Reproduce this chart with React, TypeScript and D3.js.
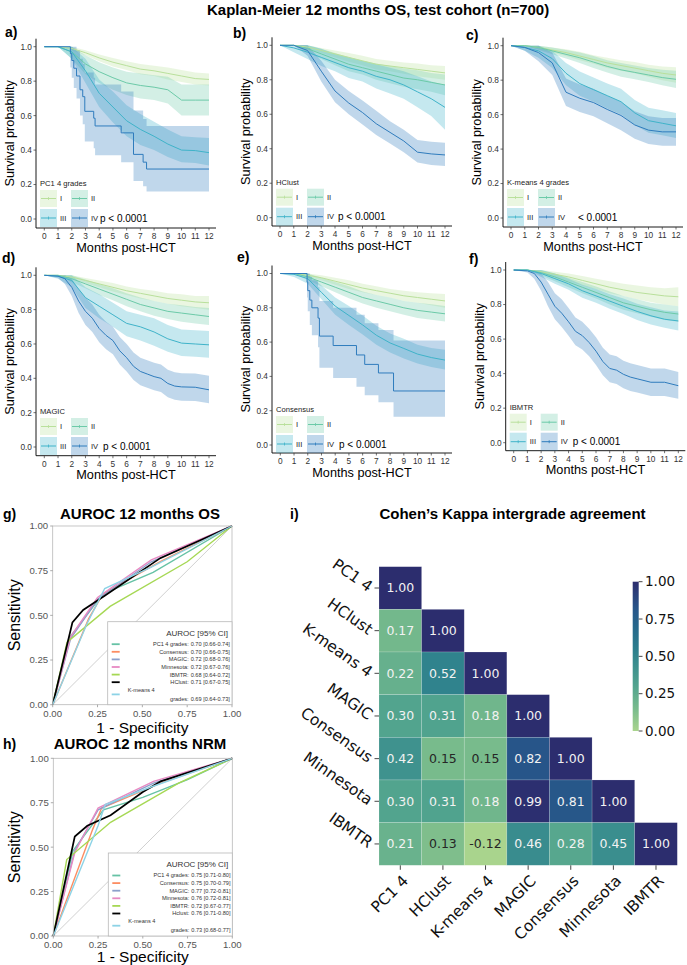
import React from 'react';
import * as d3 from 'd3';

const W = 687;
const H = 965;
const SANS = "'Liberation Sans', Arial, Helvetica, sans-serif";
const MPL = "'DejaVu Sans', sans-serif";

// ---------- Kaplan-Meier data (survival, lower CI, upper CI) ----------
const MONTHS = [0, 1, 2, 3, 4, 5, 6, 7, 8, 9, 10, 11, 12];
const HALF_MONTHS = [0, 1, 1.5, 2, 2.5, 3, 3.5, 4, 4.5, 5, 5.5, 6, 6.5, 7, 7.5, 8, 8.5, 9, 9.5, 10, 11, 12];
const GRADES = ['I', 'II', 'III', 'IV'];
const GRADE_COLORS = ['#b9e09b', '#6ccaa8', '#3fb3c9', '#2f7cbd'];

// a) PC1 4 grades
const PC1_IV_T = [0, 1.9, 2.0, 2.15, 2.35, 2.6, 2.8, 2.95, 3.6, 3.7, 5.6, 6.5, 7.2, 7.45, 12];
const PC1_T = [MONTHS, MONTHS, MONTHS, PC1_IV_T];
const PC1_S = [
  [1, 1, 0.99, 0.965, 0.935, 0.91, 0.89, 0.87, 0.86, 0.845, 0.83, 0.815, 0.81],
  [1, 1, 0.97, 0.9, 0.855, 0.82, 0.79, 0.775, 0.765, 0.75, 0.69, 0.69, 0.69],
  [1, 1, 0.97, 0.86, 0.73, 0.65, 0.57, 0.52, 0.48, 0.435, 0.4, 0.397, 0.385],
  [1, 0.96, 0.92, 0.875, 0.83, 0.75, 0.71, 0.625, 0.585, 0.54, 0.5, 0.375, 0.33, 0.29, 0.29],
];
const PC1_LO = [
  [1, 1, 0.98, 0.95, 0.915, 0.885, 0.865, 0.84, 0.83, 0.81, 0.795, 0.78, 0.775],
  [1, 1, 0.93, 0.84, 0.79, 0.75, 0.72, 0.7, 0.69, 0.67, 0.6, 0.6, 0.6],
  [1, 1, 0.93, 0.79, 0.65, 0.56, 0.48, 0.43, 0.4, 0.36, 0.33, 0.325, 0.31],
  [1, 0.88, 0.82, 0.76, 0.7, 0.6, 0.55, 0.45, 0.41, 0.37, 0.33, 0.22, 0.19, 0.16, 0.16],
];
const PC1_HI = [
  [1, 1, 1, 0.98, 0.955, 0.935, 0.915, 0.9, 0.89, 0.88, 0.865, 0.85, 0.845],
  [1, 1, 1, 0.95, 0.91, 0.88, 0.855, 0.845, 0.835, 0.825, 0.78, 0.78, 0.78],
  [1, 1, 1, 0.93, 0.81, 0.74, 0.66, 0.61, 0.565, 0.52, 0.48, 0.475, 0.47],
  [1, 1, 1, 1, 0.98, 0.93, 0.9, 0.85, 0.82, 0.78, 0.74, 0.63, 0.58, 0.54, 0.54],
];

// b) HClust
const HCL_T = [MONTHS, MONTHS, MONTHS, MONTHS];
const HCL_S = [
  [1, 1, 0.99, 0.97, 0.95, 0.93, 0.91, 0.89, 0.88, 0.87, 0.86, 0.85, 0.84],
  [1, 1, 0.98, 0.95, 0.92, 0.89, 0.87, 0.85, 0.83, 0.81, 0.8, 0.785, 0.77],
  [1, 0.985, 0.96, 0.93, 0.9, 0.87, 0.85, 0.82, 0.8, 0.77, 0.73, 0.69, 0.64],
  [1, 1, 0.97, 0.85, 0.735, 0.665, 0.61, 0.545, 0.495, 0.445, 0.38, 0.37, 0.364],
];
const HCL_LO = [
  [1, 1, 0.98, 0.955, 0.93, 0.905, 0.885, 0.86, 0.85, 0.835, 0.82, 0.81, 0.8],
  [1, 1, 0.96, 0.92, 0.885, 0.85, 0.83, 0.8, 0.78, 0.76, 0.745, 0.73, 0.71],
  [1, 0.96, 0.92, 0.88, 0.85, 0.81, 0.79, 0.75, 0.72, 0.69, 0.64, 0.59, 0.51],
  [1, 1, 0.94, 0.79, 0.67, 0.6, 0.54, 0.48, 0.43, 0.38, 0.32, 0.305, 0.3],
];
const HCL_HI = [
  [1, 1, 1, 0.985, 0.97, 0.955, 0.94, 0.92, 0.91, 0.9, 0.895, 0.885, 0.88],
  [1, 1, 1, 0.98, 0.955, 0.93, 0.91, 0.895, 0.88, 0.865, 0.855, 0.84, 0.83],
  [1, 1, 1, 0.98, 0.95, 0.93, 0.91, 0.89, 0.87, 0.85, 0.82, 0.79, 0.77],
  [1, 1, 1, 0.91, 0.8, 0.735, 0.68, 0.62, 0.56, 0.51, 0.45, 0.44, 0.435],
];

// c) K-means 4 grades
const KM4_T = [MONTHS, MONTHS, MONTHS, MONTHS];
const KM4_S = [
  [1, 1, 0.99, 0.975, 0.96, 0.94, 0.92, 0.9, 0.885, 0.87, 0.855, 0.84, 0.83],
  [1, 1, 0.99, 0.97, 0.95, 0.93, 0.905, 0.88, 0.86, 0.845, 0.83, 0.815, 0.805],
  [1, 0.99, 0.97, 0.925, 0.84, 0.78, 0.745, 0.71, 0.675, 0.61, 0.565, 0.55, 0.535],
  [1, 0.99, 0.96, 0.9, 0.73, 0.695, 0.67, 0.63, 0.595, 0.54, 0.51, 0.5, 0.5],
];
const KM4_LO = [
  [1, 1, 0.98, 0.96, 0.94, 0.915, 0.895, 0.87, 0.855, 0.84, 0.82, 0.8, 0.785],
  [1, 1, 0.975, 0.95, 0.925, 0.9, 0.87, 0.845, 0.82, 0.805, 0.79, 0.77, 0.755],
  [1, 0.97, 0.93, 0.87, 0.77, 0.71, 0.675, 0.635, 0.6, 0.54, 0.495, 0.48, 0.465],
  [1, 0.97, 0.91, 0.83, 0.65, 0.615, 0.59, 0.55, 0.51, 0.46, 0.43, 0.42, 0.42],
];
const KM4_HI = [
  [1, 1, 1, 0.99, 0.98, 0.965, 0.945, 0.93, 0.915, 0.905, 0.89, 0.88, 0.875],
  [1, 1, 1, 0.99, 0.975, 0.96, 0.94, 0.915, 0.9, 0.885, 0.87, 0.86, 0.855],
  [1, 1, 1, 0.97, 0.9, 0.85, 0.815, 0.78, 0.75, 0.685, 0.64, 0.625, 0.61],
  [1, 1, 1, 0.96, 0.81, 0.775, 0.75, 0.71, 0.675, 0.62, 0.59, 0.58, 0.58],
];

// d) MAGIC
const MAG_T = [MONTHS, MONTHS, MONTHS, HALF_MONTHS];
const MAG_S = [
  [1, 1, 0.99, 0.97, 0.95, 0.93, 0.91, 0.895, 0.88, 0.865, 0.855, 0.845, 0.84],
  [1, 1, 0.98, 0.95, 0.92, 0.89, 0.86, 0.83, 0.81, 0.79, 0.78, 0.77, 0.76],
  [1, 0.995, 0.97, 0.87, 0.82, 0.77, 0.72, 0.7, 0.67, 0.63, 0.605, 0.6, 0.595],
  [1, 0.995, 0.98, 0.93, 0.85, 0.79, 0.75, 0.69, 0.65, 0.62, 0.56, 0.52, 0.47, 0.44, 0.425, 0.41, 0.4, 0.37, 0.355, 0.35, 0.348, 0.333],
];
const MAG_LO = [
  [1, 1, 0.98, 0.955, 0.93, 0.905, 0.885, 0.865, 0.85, 0.835, 0.82, 0.81, 0.8],
  [1, 1, 0.96, 0.925, 0.885, 0.855, 0.82, 0.79, 0.765, 0.745, 0.73, 0.72, 0.71],
  [1, 0.98, 0.93, 0.81, 0.75, 0.7, 0.645, 0.62, 0.59, 0.555, 0.53, 0.525, 0.52],
  [1, 0.985, 0.95, 0.88, 0.78, 0.71, 0.67, 0.61, 0.57, 0.54, 0.48, 0.44, 0.39, 0.36, 0.345, 0.33, 0.32, 0.29, 0.275, 0.27, 0.268, 0.255],
];
const MAG_HI = [
  [1, 1, 1, 0.985, 0.97, 0.955, 0.935, 0.92, 0.91, 0.895, 0.89, 0.88, 0.88],
  [1, 1, 1, 0.975, 0.95, 0.925, 0.895, 0.87, 0.85, 0.835, 0.825, 0.815, 0.81],
  [1, 1, 1, 0.93, 0.89, 0.84, 0.79, 0.77, 0.75, 0.71, 0.685, 0.68, 0.675],
  [1, 1, 1, 0.98, 0.92, 0.87, 0.83, 0.77, 0.73, 0.7, 0.64, 0.6, 0.55, 0.52, 0.505, 0.49, 0.48, 0.45, 0.435, 0.43, 0.428, 0.415],
];

// e) Consensus
const CON_IV_T = [0, 1.95, 2.0, 2.15, 2.3, 2.75, 2.85, 3.85, 5.55, 6.15, 7.15, 8.25, 12];
const CON_T = [MONTHS, MONTHS, MONTHS, CON_IV_T];
const CON_S = [
  [1, 1, 0.99, 0.975, 0.955, 0.935, 0.915, 0.9, 0.885, 0.87, 0.86, 0.85, 0.84],
  [1, 1, 0.98, 0.95, 0.92, 0.89, 0.86, 0.84, 0.82, 0.8, 0.785, 0.775, 0.765],
  [1, 0.995, 0.97, 0.89, 0.81, 0.755, 0.7, 0.64, 0.595, 0.563, 0.53, 0.51, 0.495],
  [1, 0.95, 0.9, 0.845, 0.8, 0.74, 0.635, 0.58, 0.525, 0.47, 0.42, 0.315, 0.315],
];
const CON_LO = [
  [1, 1, 0.98, 0.96, 0.935, 0.91, 0.89, 0.875, 0.86, 0.84, 0.83, 0.815, 0.8],
  [1, 1, 0.96, 0.925, 0.89, 0.855, 0.825, 0.8, 0.78, 0.76, 0.74, 0.73, 0.72],
  [1, 0.98, 0.94, 0.85, 0.76, 0.7, 0.645, 0.585, 0.54, 0.505, 0.475, 0.455, 0.44],
  [1, 0.86, 0.78, 0.7, 0.64, 0.57, 0.45, 0.39, 0.34, 0.29, 0.25, 0.165, 0.165],
];
const CON_HI = [
  [1, 1, 1, 0.99, 0.975, 0.96, 0.94, 0.925, 0.91, 0.9, 0.89, 0.885, 0.88],
  [1, 1, 1, 0.975, 0.95, 0.925, 0.895, 0.875, 0.86, 0.84, 0.83, 0.82, 0.81],
  [1, 1, 1, 0.93, 0.86, 0.81, 0.755, 0.695, 0.65, 0.62, 0.585, 0.565, 0.555],
  [1, 1, 1, 0.98, 0.96, 0.92, 0.84, 0.8, 0.76, 0.71, 0.67, 0.61, 0.61],
];

// f) IBMTR
const IBM_T = [MONTHS, MONTHS, MONTHS, HALF_MONTHS];
const IBM_S = [
  [1, 1, 0.99, 0.975, 0.96, 0.94, 0.92, 0.9, 0.885, 0.87, 0.86, 0.85, 0.845],
  [1, 1, 0.985, 0.96, 0.93, 0.9, 0.87, 0.84, 0.81, 0.79, 0.77, 0.755, 0.745],
  [1, 1, 0.98, 0.95, 0.92, 0.88, 0.85, 0.82, 0.79, 0.76, 0.735, 0.715, 0.705],
  [1, 0.995, 0.98, 0.93, 0.86, 0.79, 0.75, 0.7, 0.645, 0.62, 0.58, 0.53, 0.47, 0.43, 0.42, 0.396, 0.38, 0.37, 0.36, 0.35, 0.35, 0.33],
];
const IBM_LO = [
  [1, 1, 0.98, 0.955, 0.935, 0.91, 0.89, 0.865, 0.85, 0.83, 0.815, 0.8, 0.79],
  [1, 1, 0.97, 0.935, 0.9, 0.865, 0.835, 0.8, 0.77, 0.75, 0.73, 0.71, 0.7],
  [1, 1, 0.96, 0.92, 0.885, 0.84, 0.81, 0.775, 0.745, 0.71, 0.685, 0.665, 0.65],
  [1, 0.985, 0.95, 0.88, 0.79, 0.715, 0.67, 0.62, 0.565, 0.54, 0.5, 0.45, 0.39, 0.35, 0.34, 0.315, 0.3, 0.29, 0.28, 0.27, 0.27, 0.255],
];
const IBM_HI = [
  [1, 1, 1, 0.99, 0.98, 0.965, 0.95, 0.935, 0.92, 0.91, 0.9, 0.895, 0.9],
  [1, 1, 1, 0.98, 0.955, 0.93, 0.905, 0.875, 0.85, 0.83, 0.81, 0.8, 0.79],
  [1, 1, 1, 0.98, 0.95, 0.915, 0.89, 0.86, 0.835, 0.805, 0.785, 0.765, 0.76],
  [1, 1, 1, 0.98, 0.93, 0.865, 0.83, 0.78, 0.725, 0.7, 0.66, 0.61, 0.55, 0.51, 0.5, 0.475, 0.46, 0.45, 0.44, 0.43, 0.43, 0.41],
];

// ---------- ROC data ----------
const ROC_COLORS = ['#66c2a5', '#fc8d62', '#8da0cb', '#e78ac3', '#a6d854', '#000000', '#8dd3e6'];
const ROC_OS_NAMES = ['PC1 4 grades:', 'Consensus:', 'MAGIC:', 'Minnesota:', 'IBMTR:', 'HClust:', 'grades:'];
const ROC_NRM_NAMES = ['PC1 4 grades:', 'Consensus:', 'MAGIC:', 'Minnesota:', 'IBMTR:', 'Hclust:', 'grades:'];
const ROC_OS_AUC = ['0.70 [0.66-0.74]', '0.70 [0.66-0.75]', '0.72 [0.68-0.76]', '0.72 [0.67-0.76]', '0.68 [0.64-0.72]', '0.71 [0.67-0.75]', '0.69 [0.64-0.73]'];
const ROC_NRM_AUC = ['0.75 [0.71-0.80]', '0.75 [0.70-0.79]', '0.77 [0.72-0.81]', '0.76 [0.72-0.81]', '0.72 [0.67-0.77]', '0.76 [0.71-0.80]', '0.73 [0.68-0.77]'];
const ROC_OS_FPR = [
  [0, 0.09, 0.28, 0.56, 1],
  [0, 0.2, 0.28, 0.6, 1],
  [0, 0.1, 0.25, 0.55, 1],
  [0, 0.1, 0.25, 0.55, 1],
  [0, 0.08, 0.32, 0.75, 1],
  [0, 0.11, 0.17, 0.29, 0.6, 1],
  [0, 0.19, 0.29, 0.55, 1],
];
const ROC_OS_TPR = [
  [0, 0.37, 0.62, 0.74, 1],
  [0, 0.48, 0.62, 0.8, 1],
  [0, 0.37, 0.59, 0.8, 1],
  [0, 0.38, 0.6, 0.81, 1],
  [0, 0.35, 0.55, 0.8, 1],
  [0, 0.46, 0.53, 0.61, 0.82, 1],
  [0, 0.45, 0.65, 0.77, 1],
];
const ROC_NRM_FPR = [
  [0, 0.11, 0.28, 0.5, 0.75, 1],
  [0, 0.22, 0.27, 0.6, 1],
  [0, 0.12, 0.25, 0.56, 1],
  [0, 0.12, 0.25, 0.56, 1],
  [0, 0.075, 0.32, 0.7, 1],
  [0, 0.12, 0.19, 0.32, 0.5, 0.6, 1],
  [0, 0.25, 0.29, 0.55, 1],
];
const ROC_NRM_TPR = [
  [0, 0.48, 0.71, 0.78, 0.88, 1],
  [0, 0.6, 0.72, 0.86, 1],
  [0, 0.48, 0.71, 0.86, 1],
  [0, 0.47, 0.72, 0.87, 1],
  [0, 0.43, 0.64, 0.86, 1],
  [0, 0.56, 0.62, 0.68, 0.81, 0.87, 1],
  [0, 0.62, 0.74, 0.84, 1],
];
const ROC_TICKS = [0, 0.25, 0.5, 0.75, 1];

// ---------- Cohen's kappa (lower triangle) ----------
const KAPPA_LABELS = ['PC1 4', 'HClust', 'K-means 4', 'MAGIC', 'Consensus', 'Minnesota', 'IBMTR'];
const KAPPA_ROWS = [
  [1.0],
  [0.17, 1.0],
  [0.22, 0.52, 1.0],
  [0.3, 0.31, 0.18, 1.0],
  [0.42, 0.15, 0.15, 0.82, 1.0],
  [0.3, 0.31, 0.18, 0.99, 0.81, 1.0],
  [0.21, 0.13, -0.12, 0.46, 0.28, 0.45, 1.0],
];
const CBAR_TICKS = [0, 0.25, 0.5, 0.75, 1];
const CREST_DOMAIN = [0, 0.15, 0.3, 0.45, 0.55, 0.7, 0.82, 1];
const CREST_COLORS = ['#a9d48d', '#78bb8c', '#52a48e', '#3a8e8e', '#2c7e8d', '#26688c', '#275589', '#2c2d6e'];

const KM_PANELS = [
  { lab: 'a)', labX: 5, labY: 36.5, legend: 'PC1 4 grades', p: 'p < 0.0001', pDx: 64, times: PC1_T, s: PC1_S, lo: PC1_LO, hi: PC1_HI, step: [false, false, false, true],
    g: { x0: 44.3, x12: 209, y1: 46.7, y0: 219, axX: 36, axY: 228 } },
  { lab: 'b)', labX: 233, labY: 38, legend: 'HClust', p: 'p < 0.0001', pDx: 66, times: HCL_T, s: HCL_S, lo: HCL_LO, hi: HCL_HI, step: [false, false, false, false],
    g: { x0: 280, x12: 445, y1: 45.3, y0: 217.7, axX: 272, axY: 226 } },
  { lab: 'c)', labX: 466, labY: 40, legend: 'K-means 4 grades', p: '< 0.0001', pDx: 75, times: KM4_T, s: KM4_S, lo: KM4_LO, hi: KM4_HI, step: [false, false, false, false],
    g: { x0: 511, x12: 676, y1: 45.7, y0: 218, axX: 503, axY: 227 } },
  { lab: 'd)', labX: 2, labY: 263, legend: 'MAGIC', p: 'p < 0.0001', pDx: 67, times: MAG_T, s: MAG_S, lo: MAG_LO, hi: MAG_HI, step: [false, false, false, false],
    g: { x0: 44.3, x12: 209, y1: 275.3, y0: 447, axX: 36, axY: 455.7 } },
  { lab: 'e)', labX: 237, labY: 262, legend: 'Consensus', p: 'p < 0.0001', pDx: 67, times: CON_T, s: CON_S, lo: CON_LO, hi: CON_HI, step: [false, false, false, true],
    g: { x0: 280.3, x12: 445, y1: 273.5, y0: 445, axX: 272, axY: 453 } },
  { lab: 'f)', labX: 469, labY: 264, legend: 'IBMTR', p: 'p < 0.0001', pDx: 67, times: IBM_T, s: IBM_S, lo: IBM_LO, hi: IBM_HI, step: [false, false, false, false],
    g: { x0: 513.7, x12: 678.3, y1: 270, y0: 442.7, axX: 505.7, axY: 450.7 } },
];

function KMPanel({ p }: { p: any }) {
  const g = p.g;
  const x = d3.scaleLinear().domain([0, 12]).range([g.x0, g.x12]);
  const y = d3.scaleLinear().domain([0, 1]).range([g.y0, g.y1]);
  const layers = p.s.map((s: number[], k: number) => {
    const t: number[] = p.times[k];
    const curve = p.step[k] ? d3.curveStepAfter : d3.curveLinear;
    const band = d3.area<number>()
      .x(d => x(d))
      .y0((_, i) => y(p.lo[k][i]))
      .y1((_, i) => y(p.hi[k][i]))
      .curve(curve)(t);
    const line = d3.line<number>().x(d => x(d)).y((_, i) => y(s[i])).curve(curve)(t);
    return { band, line, color: GRADE_COLORS[k] };
  });
  const lx = g.axX + 4;
  const keys = [[0, 0], [31, 0], [0, 1], [31, 1]];
  return (
    <g fontFamily={SANS}>
      {layers.map((l: any, k: number) => <path key={'b' + k} d={l.band} fill={l.color} fillOpacity={0.3} />)}
      {layers.map((l: any, k: number) => <path key={'l' + k} d={l.line} fill="none" stroke={l.color} strokeWidth={1} />)}
      <line x1={g.axX} x2={g.axX} y1={g.y1 - 8} y2={g.axY} stroke="#000" strokeWidth={0.9} />
      <line x1={g.axX} x2={g.x12 + 7} y1={g.axY} y2={g.axY} stroke="#000" strokeWidth={0.9} />
      {x.ticks(12).map(t => (
        <g key={'x' + t}>
          <line x1={x(t)} x2={x(t)} y1={g.axY} y2={g.axY + 2.5} stroke="#333" strokeWidth={0.7} />
          <text x={x(t)} y={g.axY + 8.5} dy="0.35em" textAnchor="middle" fontSize={8.3} fill="#333">{t}</text>
        </g>
      ))}
      {y.ticks(5).map(t => (
        <g key={'y' + t}>
          <line x1={g.axX - 2.5} x2={g.axX} y1={y(t)} y2={y(t)} stroke="#333" strokeWidth={0.7} />
          <text x={g.axX - 4} y={y(t)} dy="0.35em" textAnchor="end" fontSize={8.3} fill="#333">{d3.format('.1f')(t)}</text>
        </g>
      ))}
      <text transform={`translate(${g.axX - 22},${(g.y1 + g.axY) / 2 - 4}) rotate(-90)`} textAnchor="middle" fontSize={12.7} fill="#000">Survival probability</text>
      <text x={(g.axX + g.x12 + 7) / 2} y={g.axY + 23.5} textAnchor="middle" fontSize={12.7} fill="#000">Months post-HCT</text>
      <text x={lx} y={g.y0 - 33} fontSize={7.6} fill="#222">{p.legend}</text>
      {keys.map(([dx, row], k) => {
        const kx = lx + dx;
        const ky = row === 0 ? g.y0 - 29 : g.y0 - 10;
        const kh = row === 0 ? 17 : 18;
        const c = GRADE_COLORS[k];
        return (
          <g key={'k' + k}>
            <rect x={kx} y={ky} width={17} height={kh} fill={c} fillOpacity={0.3} />
            <line x1={kx + 1} x2={kx + 16} y1={ky + kh / 2} y2={ky + kh / 2} stroke={c} strokeWidth={1} />
            <line x1={kx + 8.5} x2={kx + 8.5} y1={ky + kh / 2 - 1.5} y2={ky + kh / 2 + 1.5} stroke={c} strokeWidth={0.8} />
            <text x={kx + 20} y={ky + kh / 2} dy="0.35em" fontSize={7.6} fill="#222">{GRADES[k]}</text>
          </g>
        );
      })}
      <text x={g.axX + p.pDx} y={g.y0 - 1} dy="0.35em" fontSize={10} fill="#000">{p.p}</text>
      <text x={p.labX} y={p.labY} fontSize={14} fontWeight="bold" fill="#000">{p.lab}</text>
    </g>
  );
}

const ROC_PANELS = [
  { lab: 'g)', title: 'AUROC 12 months OS', titleY: 519, left: 52.7, top: 526, w: 179.3, h: 178.7, xTitleDy: 28, fpr: ROC_OS_FPR, tpr: ROC_OS_TPR, names: ROC_OS_NAMES, auc: ROC_OS_AUC },
  { lab: 'h)', title: 'AUROC 12 months NRM', titleY: 749, left: 53.3, top: 758.3, w: 179, h: 177.7, xTitleDy: 26, fpr: ROC_NRM_FPR, tpr: ROC_NRM_TPR, names: ROC_NRM_NAMES, auc: ROC_NRM_AUC },
];

function RocPanel({ r }: { r: any }) {
  const x = d3.scaleLinear().domain([0, 1]).range([r.left, r.left + r.w]);
  const y = d3.scaleLinear().domain([0, 1]).range([r.top + r.h, r.top]);
  const line = d3.line<number>().x(d => x(d));
  const bw = r.w - 55;
  const bh = 83;
  const bx = r.left + 55;
  const by = r.top + r.h - bh;
  const rowY = [22.5, 30.1, 37.7, 45.3, 52.9, 60.5];
  return (
    <g fontFamily={SANS}>
      <line x1={x(0)} y1={y(0)} x2={x(1)} y2={y(1)} stroke="#c4c4c4" strokeWidth={0.8} />
      {r.fpr.map((f: number[], k: number) => (
        <path key={k} d={line.y((_, i) => y(r.tpr[k][i]))(f) as string} fill="none" stroke={ROC_COLORS[k]}
          strokeWidth={k === 5 ? 1.7 : 1.4} />
      ))}
      <rect x={r.left} y={r.top} width={r.w} height={r.h} fill="none" stroke="#b8b8b8" strokeWidth={0.8} />
      {ROC_TICKS.map(t => (
        <g key={t}>
          <line x1={x(t)} x2={x(t)} y1={r.top + r.h} y2={r.top + r.h + 2.5} stroke="#888" strokeWidth={0.7} />
          <text x={x(t)} y={r.top + r.h + 9} dy="0.35em" textAnchor="middle" fontSize={9.6} fill="#555">{d3.format('.2f')(t)}</text>
          <line x1={r.left - 2.5} x2={r.left} y1={y(t)} y2={y(t)} stroke="#888" strokeWidth={0.7} />
          <text x={r.left - 4.5} y={y(t)} dy="0.35em" textAnchor="end" fontSize={9.6} fill="#555">{d3.format('.2f')(t)}</text>
        </g>
      ))}
      <text transform={`translate(${r.left - 33},${r.top + r.h / 2}) rotate(-90)`} textAnchor="middle" fontSize={16} fill="#000">Sensitivity</text>
      <text x={r.left + r.w / 2} y={r.top + r.h + r.xTitleDy} textAnchor="middle" fontSize={15.5} fill="#000">1 - Specificity</text>
      <text x={140} y={r.titleY} textAnchor="middle" fontSize={15} fontWeight="bold" fill="#000">{r.title}</text>
      <text x={3} y={r.titleY} fontSize={14} fontWeight="bold" fill="#000">{r.lab}</text>
      <rect x={bx} y={by} width={bw} height={bh} fill="#fff" stroke="#b8b8b8" strokeWidth={0.8} />
      <text x={bx + bw - 4} y={by + 11} dy="0.35em" textAnchor="end" fontSize={8} fill="#333">AUROC [95% CI]</text>
      {r.names.map((n: string, k: number) => {
        const ry = k < 6 ? by + rowY[k] : by + 77;
        const ky = k < 6 ? ry : by + 72.7;
        return (
          <g key={n + k}>
            <line x1={bx + 4} x2={bx + 12} y1={ky} y2={ky} stroke={ROC_COLORS[k]} strokeWidth={1.8} />
            <text x={bx + 81} y={ry} dy="0.35em" textAnchor="end" fontSize={5.6} fill="#333">{n}</text>
            <text x={bx + 83} y={ry} dy="0.35em" fontSize={5.6} fill="#333">{r.auc[k]}</text>
          </g>
        );
      })}
      <text x={bx + 20} y={by + 68.5} dy="0.35em" fontSize={5.6} fill="#333">K-means 4</text>
    </g>
  );
}

function Heatmap() {
  const x = d3.scaleBand().domain(KAPPA_LABELS).range([379, 677.3]);
  const y = d3.scaleBand().domain(KAPPA_LABELS).range([566.7, 865.3]);
  const color = d3.scaleLinear<string>().domain(CREST_DOMAIN).range(CREST_COLORS).interpolate(d3.interpolateRgb).clamp(true);
  const cb = d3.scaleLinear().domain([0, 1]).range([731, 581.7]);
  const bw = x.bandwidth();
  const fmt = (v: number) => d3.format('.2f')(v).replace('\u2212', '-');
  return (
    <g fontFamily={MPL}>
      <defs>
        <linearGradient id="crest" x1="0" y1="1" x2="0" y2="0">
          {CREST_DOMAIN.map((d, i) => <stop key={i} offset={d} stopColor={CREST_COLORS[i]} />)}
        </linearGradient>
      </defs>
      {KAPPA_ROWS.map((row, ri) => row.map((v, ci) => {
        const cx = x(KAPPA_LABELS[ci]) as number;
        const cy = y(KAPPA_LABELS[ri]) as number;
        return (
          <g key={ri + '-' + ci}>
            <rect x={cx} y={cy} width={bw} height={bw} fill={color(v)} stroke="#ffffff" strokeOpacity={0.25} strokeWidth={0.6} />
            <text x={cx + bw / 2} y={cy + bw / 2} dy="0.35em" textAnchor="middle" fontSize={12.5}
              fill={v < 0.16 ? '#262626' : '#f2f2f2'}>{fmt(v)}</text>
          </g>
        );
      }))}
      {KAPPA_LABELS.map(l => {
        const cy = (y(l) as number) + bw / 2;
        const cx = (x(l) as number) + bw / 2;
        return (
          <g key={l}>
            <line x1={374.5} x2={379} y1={cy} y2={cy} stroke="#333" strokeWidth={0.9} />
            <text transform={`translate(371,${cy}) rotate(35)`} dy="0.35em" textAnchor="end" fontSize={15.5} fill="#111">{l}</text>
            <line x1={cx} x2={cx} y1={865.3} y2={869.8} stroke="#333" strokeWidth={0.9} />
            <text transform={`translate(${cx + 5},${878}) rotate(-45)`} dy="0.35em" textAnchor="end" fontSize={15.5} fill="#111">{l}</text>
          </g>
        );
      })}
      <rect x={632.7} y={cb(1)} width={6} height={cb(0) - cb(1)} fill="url(#crest)" />
      {CBAR_TICKS.map(t => (
        <g key={t}>
          <line x1={638.7} x2={642.5} y1={cb(t)} y2={cb(t)} stroke="#333" strokeWidth={0.9} />
          <text x={645} y={cb(t)} dy="0.35em" fontSize={13.5} fill="#111">{fmt(t)}</text>
        </g>
      ))}
      <text x={512.5} y={519} textAnchor="middle" fontFamily={SANS} fontSize={15} fontWeight="bold" fill="#000">Cohen’s Kappa intergrade agreement</text>
      <text x={290} y={519} fontFamily={SANS} fontSize={14} fontWeight="bold" fill="#000">i)</text>
    </g>
  );
}

export default function App() {
  return (
    <svg width={W} height={H} viewBox={`0 0 ${W} ${H}`} style={{ position: 'absolute', left: 0, top: 0, background: '#fff' }}>
      <rect width={W} height={H} fill="#fff" />
      <text x={207} y={15} fontFamily={SANS} fontSize={15} fontWeight="bold" fill="#000">
        Kaplan-Meier 12 months OS, test cohort (n=700)
      </text>
      {KM_PANELS.map(p => <KMPanel key={p.lab} p={p} />)}
      {ROC_PANELS.map(r => <RocPanel key={r.lab} r={r} />)}
      <Heatmap />
    </svg>
  );
}
